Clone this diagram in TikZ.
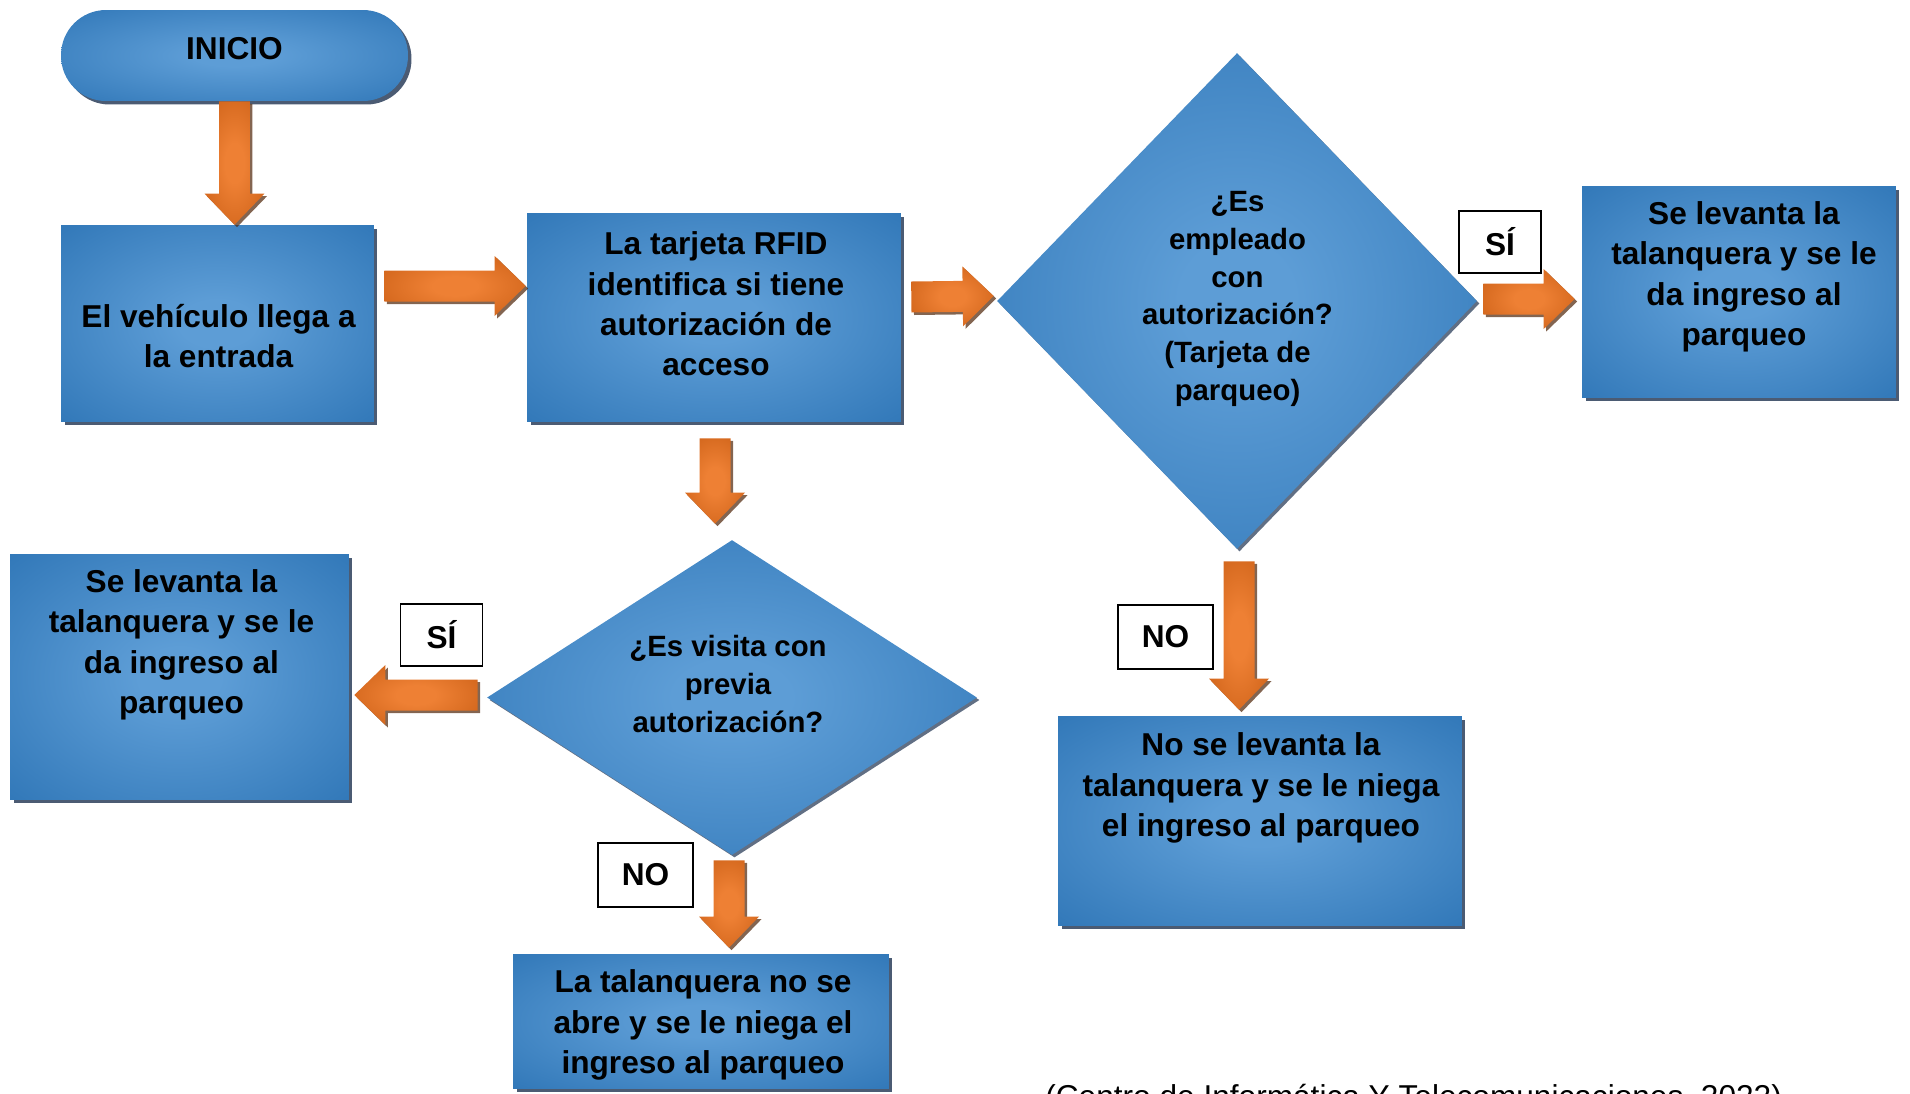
\documentclass[tikz,border=0pt]{standalone}
\usepackage{fontspec}
\setmainfont{Liberation Sans}
\usepackage{tikz}
\usetikzlibrary{calc,positioning,shapes,shadows}

\definecolor{boxdark}{RGB}{46,117,182}
\definecolor{boxlight}{RGB}{93,157,214}
\definecolor{arrowdark}{RGB}{197,90,17}
\definecolor{arrowlight}{RGB}{238,128,52}
\definecolor{shadowcol}{RGB}{30,50,80}

\pgfdeclareradialshading{boxglow}{\pgfpoint{0bp}{0bp}}{color(0bp)=(boxlight); color(6bp)=(boxlight); color(38bp)=(boxdark); color(50bp)=(boxdark)}
\pgfdeclareradialshading{arrowglow}{\pgfpoint{0bp}{0bp}}{color(0bp)=(arrowlight); color(8bp)=(arrowlight); color(40bp)=(arrowdark); color(50bp)=(arrowdark)}

\tikzset{
	box/.style={shape=rectangle,shade,shading=boxglow,inner sep=0,drop shadow={shadow xshift=0.07cm,shadow yshift=-0.07cm,fill=shadowcol,opacity=0.8}},
	start/.style={box,rounded corners=0.9cm},
	decision/.style={shape=diamond,shade,shading=boxglow,inner sep=0,drop shadow={shadow xshift=0.05cm,shadow yshift=-0.05cm,fill=shadowcol,opacity=0.7}},
	txt/.style={align=center,inner sep=0,font=\bfseries\fontsize{18}{23}\selectfont},
	qtxt/.style={align=center,inner sep=0,font=\bfseries\fontsize{16.7}{21.5}\selectfont},
	tag/.style={draw,fill=white,line width=0.9pt,inner sep=0,font=\bfseries\fontsize{18}{22}\selectfont},
	fatarrow/.style={shade,shading=arrowglow,drop shadow={shadow xshift=0.05cm,shadow yshift=-0.05cm,fill=black!60!arrowdark,opacity=0.7},
		to path={let \p1=(\tikztostart),\p2=(\tikztotarget),\p3=($(\p2)!0.62cm!(\p1)$) in
			($(\p1)!0.31cm!90:(\p2)$) -- ($(\p3)!0.31cm!90:(\p2)$) -- ($(\p3)!0.6cm!90:(\p2)$) -- (\p2)
			-- ($(\p3)!0.6cm!-90:(\p2)$) -- ($(\p3)!0.31cm!-90:(\p2)$) -- ($(\p1)!0.31cm!-90:(\p2)$) -- cycle}}
}

\begin{document}
\begin{tikzpicture}[x=0.02cm,y=-0.02cm]
	\useasboundingbox (0,0) rectangle (1910,1093);
	\clip (0,0) rectangle (1910,1093);

	\node(inicio) [start,minimum width=6.94cm,minimum height=1.82cm] at (234.5,55.5) {}
		node(tinicio) [txt] at (234.5,49) {INICIO};
	\node(b1) [box,minimum width=6.26cm,minimum height=3.94cm] at (217.5,323.5) {}
		node(t1) [txt] at (218.5,336) {El vehículo llega a\\la entrada};
	\node(b2) [box,minimum width=7.48cm,minimum height=4.18cm] at (714,317.5) {}
		node(t2) [txt] at (716,304) {La tarjeta RFID\\identifica si tiene\\autorización de\\acceso};
	\node(d1) [decision,minimum width=9.6cm,minimum height=9.92cm] at (1237,301) {}
		node(td1) [qtxt] at (1237.5,299) {¿Es\\empleado\\con\\autorización?\\(Tarjeta de\\parqueo)};
	\node(b3) [box,minimum width=6.28cm,minimum height=4.24cm] at (1739,292) {}
		node(t3) [txt] at (1744,277) {Se levanta la\\talanquera y se le\\da ingreso al\\parqueo};
	\node(d2) [decision,minimum width=9.8cm,minimum height=6.3cm] at (732,697.5) {}
		node(td2) [qtxt] at (728,684) {¿Es visita con\\previa\\autorización?};
	\node(b4) [box,minimum width=6.78cm,minimum height=4.92cm] at (179.5,677) {}
		node(t4) [txt] at (181.5,645) {Se levanta la\\talanquera y se le\\da ingreso al\\parqueo};
	\node(b5) [box,minimum width=7.52cm,minimum height=2.68cm] at (701,1021) {}
		node(t5) [txt] at (703,1025) {La talanquera no se\\abre y se le niega el\\ingreso al parqueo};
	\node(b6) [box,minimum width=8.08cm,minimum height=4.2cm] at (1260,821) {}
		node(t6) [txt] at (1261,788) {No se levanta la\\talanquera y se le niega\\el ingreso al parqueo};

	\path[fatarrow] (inicio.south) to (inicio.south |- b1.north);
	\path[fatarrow] ($(b1.east)+(10,-37.5)$) to ($(b2.west)+(-1,-31.5)$);
	\path[fatarrow] ($(b2.east)+(10,-20.5)$) to ($(d1.west)+(-3,-5)$);
	\path[fatarrow] ($(d1.east)+(6,-2)$) to ($(b3.west)+(-7,7)$);
	\path[fatarrow] ($(b2.south)+(1,16)$) to ($(d2.north)+(-17,-16)$);
	\path[fatarrow] ($(d2.west)+(-9,-2.5)$) to ($(b4.east)+(5,18)$);
	\path[fatarrow] ($(d2.south)+(-3,5)$) to ($(b5.north)+(28,-6)$);
	\path[fatarrow] ($(d1.south)+(2,12)$) to ($(b6.north)+(-21,-6)$);

	\node(si1) [tag,minimum width=1.64cm,minimum height=1.24cm] at (1500,242) {SÍ};
	\node(si2) [tag,minimum width=1.64cm,minimum height=1.24cm] at (441.5,635) {SÍ};
	\node(no1) [tag,minimum width=1.9cm,minimum height=1.28cm] at (645.5,875) {NO};
	\node(no2) [tag,minimum width=1.9cm,minimum height=1.28cm] at (1165.5,637) {NO};

	\node(fuente) [anchor=base west,inner sep=0,font=\fontsize{18}{22}\selectfont] at (1045,1107) {(Centro de Informática Y Telecomunicaciones, 2022)};
\end{tikzpicture}
\end{document}
